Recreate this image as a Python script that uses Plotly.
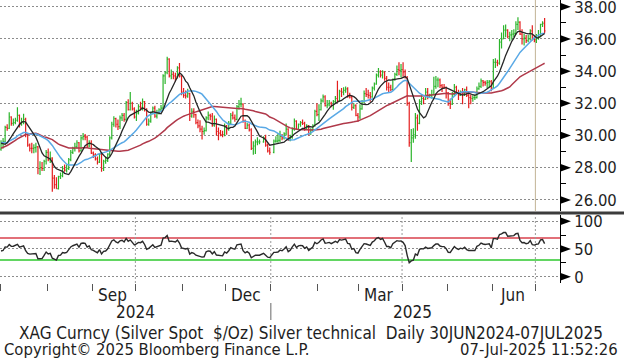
import pandas as pd
import plotly.graph_objects as go

# ---------------- data ----------------
# closes for the ~50 sessions before the window (used only for moving averages / RSI warm-up)
pre_close = [28.7, 27.3, 27.3, 27.3, 27.4, 27.3, 27.5, 26.6,
             26.6, 26.5, 26.6, 27.4, 27.4, 27.4, 28.2, 28.2, 28.2, 28.7, 29.6, 29.5, 31.4, 31.7,
             30.6, 30.2, 30.4, 30.4, 30.8, 32.0, 31.9, 31.2, 30.4,
             30.4, 29.6, 29.9, 31.3, 29.2, 29.6, 29.1, 29.7, 28.9, 29.5, 29.5, 29.4, 29.9, 30.8,
             29.6, 29.7, 28.9, 29.0, 29.2, 29.1]

open_ = [
    # Jul 2024
    29.15, 29.50, 29.60, 30.50, 30.45, 31.15, 30.75, 30.80, 30.95, 31.25, 30.75, 30.85, 31.00, 30.05, 29.40, 29.20, 29.20, 29.25, 29.30, 27.95, 28.00, 27.95, 28.40,
    # Aug
    28.95, 28.50, 28.60, 27.35, 26.95, 26.70, 27.45, 27.50, 27.95, 27.85, 27.95, 28.50, 28.95, 29.20, 29.30, 29.55, 29.05, 29.85, 29.95, 29.90, 29.35, 29.55,
    # Sep
    28.90, 28.80, 28.55, 28.35, 28.85, 27.95, 28.40, 28.45, 28.85, 29.85, 30.70, 31.05, 30.70, 30.55, 31.10, 31.25, 31.00, 32.05, 31.60, 32.00, 31.65,
    # Oct
    31.15, 31.40, 31.80, 31.75, 32.10, 31.60, 30.70, 30.90, 31.40, 31.70, 31.20, 31.40, 31.60, 31.70, 33.70, 33.90, 34.75, 33.70, 33.80, 33.70, 33.65, 34.20, 33.70,
    # Nov
    32.70, 32.50, 32.45, 32.60, 31.20, 31.50, 31.30, 30.80, 30.60, 30.40, 30.25, 30.30, 31.10, 31.25, 31.20, 30.65, 31.00, 30.25, 30.15, 30.05, 30.05,
    # Dec
    30.60, 30.40, 30.75, 31.25, 31.10, 31.00, 31.80, 31.95, 31.95, 30.90, 30.45, 30.65, 30.35, 29.20, 29.35, 29.60, 29.60, 29.60, 29.85, 29.40, 29.05,
    # Jan 2025
    28.95, 29.65, 29.65, 29.70, 29.95, 29.85, 30.10, 30.40, 29.70, 29.90, 30.40, 30.90, 30.40, 30.70, 30.80, 30.75, 30.40, 30.60, 30.10, 30.35, 30.60, 31.50,
    # Feb
    31.30, 31.60, 32.15, 32.40, 31.85, 31.90, 32.00, 31.85, 32.10, 32.30, 32.15, 32.75, 32.70, 32.80, 32.90, 32.45, 32.40, 31.75, 31.85, 31.25,
    # Mar
    31.15, 31.65, 32.10, 32.60, 32.55, 32.50, 32.40, 32.95, 33.20, 33.75, 33.95, 33.75, 33.95, 33.55, 33.00, 33.00, 32.85, 33.50, 33.80, 34.10, 34.05,
    # Apr
    34.10, 33.95, 33.60, 32.00, 29.55, 29.85, 30.05, 31.10, 30.75, 32.10, 32.30, 32.25, 32.70, 32.40, 32.50, 32.55, 33.05, 33.45, 33.45, 33.10, 33.00, 33.00,
    # May
    32.65, 32.00, 31.95, 32.55, 33.00, 32.65, 32.50, 32.70, 32.60, 32.85, 32.50, 32.35, 32.30, 32.35, 32.35, 32.90, 33.05, 33.40, 33.30, 33.25, 33.30, 33.35,
    # Jun
    32.95, 34.55, 34.55, 34.50, 35.80, 36.00, 36.55, 36.55, 36.15, 36.25, 36.30, 36.35, 36.90, 37.05, 36.30, 36.00, 36.05, 35.90, 36.00, 36.50, 36.00,
    # Jul
    35.95, 36.10, 36.15, 36.90, 37.00,
]

high = [
    29.70, 29.85, 30.60, 30.70, 31.45, 31.20, 31.05, 31.10, 31.75, 31.30, 31.10, 31.35, 31.10, 30.10, 29.50, 29.55, 29.45, 29.55, 29.35, 28.40, 28.35, 28.50, 29.10,
    29.20, 29.00, 28.65, 27.55, 27.40, 27.50, 27.70, 28.10, 28.20, 28.20, 28.60, 29.10, 29.30, 29.55, 29.70, 29.60, 29.95, 30.15, 30.10, 30.00, 29.70, 29.70,
    29.00, 28.90, 28.70, 28.90, 28.95, 28.50, 28.70, 28.90, 29.95, 30.85, 31.20, 31.10, 31.00, 31.25, 31.40, 31.40, 32.15, 32.25, 32.70, 32.10, 31.75,
    31.60, 31.95, 32.10, 32.30, 32.15, 31.70, 31.05, 31.50, 31.80, 31.85, 31.60, 31.70, 31.90, 33.80, 34.00, 34.90, 34.80, 34.10, 33.95, 33.90, 34.30, 34.50, 33.75,
    32.95, 32.80, 32.90, 32.65, 31.70, 31.70, 31.35, 31.00, 30.95, 30.60, 30.50, 31.20, 31.50, 31.35, 31.40, 31.25, 31.05, 30.50, 30.35, 30.30, 30.75,
    30.65, 30.90, 31.40, 31.50, 31.30, 31.90, 32.20, 32.35, 32.00, 31.00, 30.80, 30.75, 30.45, 29.65, 29.75, 29.90, 29.75, 29.95, 30.05, 29.50, 29.25,
    29.75, 29.95, 30.15, 30.30, 30.10, 30.20, 30.75, 30.45, 30.05, 30.50, 31.05, 30.95, 30.75, 30.90, 31.00, 30.85, 30.70, 30.65, 30.45, 30.70, 31.60, 32.00,
    31.95, 32.30, 32.55, 32.50, 32.20, 32.20, 32.10, 32.20, 32.45, 33.40, 32.85, 32.95, 33.00, 33.05, 33.00, 32.65, 32.50, 32.00, 31.95, 31.40,
    31.95, 32.20, 32.80, 32.95, 32.85, 32.70, 33.05, 33.30, 33.85, 34.20, 34.05, 34.05, 34.00, 33.70, 33.30, 33.15, 33.55, 33.90, 34.35, 34.55, 34.45,
    34.55, 34.10, 33.70, 32.10, 30.40, 30.45, 31.40, 31.30, 32.25, 32.50, 32.40, 32.95, 32.95, 32.60, 32.85, 33.65, 33.70, 33.60, 33.55, 33.20, 33.20, 33.05,
    32.70, 32.30, 32.70, 33.20, 33.10, 32.85, 32.80, 32.95, 32.90, 33.05, 32.60, 32.55, 32.50, 32.55, 33.05, 33.30, 33.55, 33.45, 33.40, 33.45, 33.45, 33.45,
    34.75, 34.80, 34.70, 36.00, 36.40, 36.85, 36.90, 36.60, 36.45, 36.55, 36.60, 37.10, 37.35, 37.10, 36.60, 36.30, 36.25, 36.25, 36.60, 36.85, 36.20,
    36.30, 36.55, 36.95, 37.10, 37.30,
]

low = [
    29.05, 29.20, 29.45, 30.30, 30.40, 30.60, 30.60, 30.70, 30.85, 30.50, 30.60, 30.70, 29.90, 29.30, 29.00, 28.90, 28.90, 28.95, 27.60, 27.55, 27.80, 27.80, 28.20,
    28.40, 28.30, 26.50, 26.70, 26.70, 26.65, 27.30, 27.40, 27.75, 27.70, 27.85, 28.40, 28.85, 29.00, 29.20, 28.95, 29.00, 29.70, 29.70, 29.25, 29.25, 28.85,
    28.60, 28.45, 28.20, 28.30, 27.75, 27.80, 28.25, 28.35, 28.70, 29.75, 30.55, 30.50, 30.35, 30.40, 30.90, 30.85, 30.90, 31.55, 31.55, 31.55, 31.05,
    30.90, 31.30, 31.55, 31.55, 31.50, 30.60, 30.60, 30.80, 31.30, 31.10, 31.05, 31.30, 31.50, 31.60, 33.20, 33.80, 33.60, 33.50, 33.50, 33.35, 33.55, 33.60, 32.50,
    32.35, 32.30, 32.35, 30.90, 31.10, 31.10, 30.70, 30.45, 30.20, 29.75, 30.05, 30.25, 30.95, 30.95, 30.55, 30.55, 30.00, 29.70, 29.95, 29.90, 29.95,
    30.05, 30.30, 30.65, 31.00, 30.85, 30.95, 31.60, 31.75, 30.80, 30.40, 30.40, 30.25, 29.10, 28.80, 28.85, 29.40, 29.45, 29.55, 29.30, 28.95, 28.80,
    28.90, 29.55, 29.55, 29.60, 29.70, 29.75, 30.00, 29.70, 29.65, 29.80, 30.30, 30.35, 30.35, 30.55, 30.65, 30.30, 30.35, 30.00, 30.05, 30.25, 30.55, 31.20,
    30.90, 31.55, 32.05, 31.80, 31.70, 31.80, 31.75, 31.60, 32.00, 32.05, 32.10, 32.40, 32.50, 32.65, 32.35, 32.30, 31.55, 31.65, 31.20, 30.85,
    31.00, 31.60, 32.00, 32.40, 32.30, 32.10, 32.35, 32.80, 33.15, 33.60, 33.60, 33.55, 33.40, 32.80, 32.70, 32.75, 32.80, 33.40, 33.70, 33.75, 33.60,
    33.65, 33.55, 31.85, 29.30, 28.35, 29.55, 29.80, 30.30, 30.70, 31.90, 31.95, 32.20, 32.25, 32.35, 32.30, 32.50, 32.90, 33.00, 32.95, 32.70, 32.90, 32.30,
    31.85, 31.65, 31.90, 32.45, 32.55, 32.20, 32.45, 31.95, 32.45, 32.40, 31.70, 31.95, 32.10, 32.20, 32.30, 32.85, 32.95, 33.05, 33.10, 32.95, 33.00, 32.75,
    32.95, 34.20, 34.30, 34.40, 35.40, 36.00, 36.10, 36.05, 35.85, 35.95, 36.10, 36.25, 36.55, 36.25, 35.65, 35.60, 35.75, 35.80, 35.90, 35.90, 35.80,
    35.75, 35.95, 36.10, 36.75, 36.35,
]

close = [
    29.50, 29.60, 30.50, 30.45, 31.15, 30.75, 30.80, 30.95, 31.25, 30.70, 30.85, 31.00, 30.05, 29.40, 29.20, 29.20, 29.25, 29.30, 27.95, 28.00, 27.95, 28.40, 28.95,
    28.50, 28.60, 27.35, 26.95, 26.70, 27.45, 27.50, 27.95, 27.85, 27.95, 28.50, 28.95, 29.20, 29.30, 29.55, 29.05, 29.85, 29.95, 29.90, 29.35, 29.55, 28.90,
    28.80, 28.55, 28.35, 28.85, 27.95, 28.40, 28.45, 28.85, 29.85, 30.70, 31.05, 30.70, 30.55, 31.10, 31.25, 31.00, 32.05, 31.60, 32.00, 31.65, 31.15,
    31.40, 31.80, 31.75, 32.10, 31.60, 30.70, 30.90, 31.40, 31.70, 31.20, 31.40, 31.60, 31.70, 33.70, 33.90, 34.75, 33.70, 33.80, 33.70, 33.65, 34.20, 33.70, 32.70,
    32.50, 32.45, 32.60, 31.20, 31.50, 31.30, 30.80, 30.60, 30.40, 30.25, 30.30, 31.10, 31.25, 31.20, 30.65, 31.00, 30.25, 30.15, 30.05, 30.05, 30.60,
    30.40, 30.75, 31.25, 31.10, 31.00, 31.80, 31.95, 31.95, 30.90, 30.45, 30.65, 30.35, 29.20, 29.35, 29.60, 29.60, 29.60, 29.85, 29.40, 29.05, 28.95,
    29.65, 29.65, 29.70, 29.95, 29.85, 30.10, 30.40, 29.70, 29.90, 30.40, 30.90, 30.40, 30.70, 30.80, 30.75, 30.40, 30.60, 30.10, 30.35, 30.60, 31.50, 31.30,
    31.60, 32.15, 32.40, 31.85, 31.90, 32.00, 31.85, 32.10, 32.30, 32.15, 32.75, 32.70, 32.80, 32.90, 32.45, 32.40, 31.75, 31.85, 31.25, 31.15,
    31.65, 32.10, 32.60, 32.55, 32.50, 32.40, 32.95, 33.20, 33.75, 33.95, 33.75, 33.95, 33.55, 33.00, 33.00, 32.85, 33.50, 33.80, 34.10, 34.05, 34.10,
    33.95, 33.60, 32.00, 29.55, 29.85, 29.95, 31.10, 30.75, 32.10, 32.30, 32.25, 32.70, 32.40, 32.50, 32.55, 33.05, 33.45, 33.45, 33.10, 33.00, 33.00, 32.65,
    32.00, 31.95, 32.55, 33.00, 32.65, 32.50, 32.70, 32.60, 32.85, 32.50, 32.35, 32.30, 32.35, 32.35, 32.90, 33.05, 33.40, 33.30, 33.25, 33.30, 33.35, 32.95,
    34.55, 34.55, 34.50, 35.80, 36.00, 36.55, 36.55, 36.15, 36.25, 36.30, 36.35, 36.90, 37.05, 36.30, 36.00, 36.05, 35.90, 36.00, 36.50, 36.00, 35.95,
    36.10, 36.15, 36.90, 36.95, 36.50,
]

price_ticks = [26, 28, 30, 32, 34, 36, 38]
rsi_ticks = [0, 50, 100]
month_labels = ["Sep", "Dec", "Mar", "Jun"]
month_label_dates = ["2024-09-16", "2024-12-16", "2025-03-17", "2025-06-16"]
year_labels = ["2024", "2025"]
year_label_dates = ["2024-10-01", "2025-04-08"]

# ---------------- derived ----------------
dates = pd.bdate_range("2024-07-01", "2025-07-07")
dates = dates[~dates.isin(pd.to_datetime(["2024-12-25", "2025-01-01"]))]
assert len(dates) == len(close) == len(open_) == len(high) == len(low)
xpos = dates + pd.Timedelta(hours=12)

full = pd.Series(pre_close + close, dtype=float)
n_pre = len(pre_close)
ma9 = full.rolling(9).mean().iloc[n_pre:].values
ma20 = full.rolling(20).mean().iloc[n_pre:].values
ma50 = full.rolling(50).mean().iloc[n_pre:].values
delta = full.diff()
gain = delta.clip(lower=0).ewm(alpha=1 / 14, adjust=False).mean()
loss = (-delta.clip(upper=0)).ewm(alpha=1 / 14, adjust=False).mean()
rsi = (100 - 100 / (1 + gain / loss)).iloc[n_pre:].values

month_ticks = [pd.offsets.BDay().rollforward(d) for d in pd.date_range("2024-07-01", "2025-07-01", freq="MS")]

FONT = "DejaVu Sans Condensed, DejaVu Sans, sans-serif"
TXT = "#1e1e1e"
GREEN = "#2cb52c"
RED = "#e41e1e"

fig = go.Figure()
fig.add_trace(go.Ohlc(x=xpos, open=open_, high=high, low=low, close=close,
                      increasing=dict(line=dict(color=GREEN, width=1.2)),
                      decreasing=dict(line=dict(color=RED, width=1.2)),
                      tickwidth=0.45, hoverinfo="skip", showlegend=False,
                      xaxis="x", yaxis="y"))
fig.add_trace(go.Scatter(x=xpos, y=ma50, mode="lines", line=dict(color="#b0394a", width=1.5),
                         hoverinfo="skip", showlegend=False, xaxis="x", yaxis="y"))
fig.add_trace(go.Scatter(x=xpos, y=ma20, mode="lines", line=dict(color="#5aa9e6", width=1.5),
                         hoverinfo="skip", showlegend=False, xaxis="x", yaxis="y"))
fig.add_trace(go.Scatter(x=xpos, y=ma9, mode="lines", line=dict(color="#262626", width=1.3),
                         hoverinfo="skip", showlegend=False, xaxis="x", yaxis="y"))
fig.add_trace(go.Scatter(x=xpos, y=rsi, mode="lines", line=dict(color="#2a2a2a", width=1.4),
                         hoverinfo="skip", showlegend=False, xaxis="x", yaxis="y2"))

shapes = []
# RSI overbought / oversold lines
shapes.append(dict(type="line", xref="paper", x0=0, x1=1, yref="y2", y0=70, y1=70,
                   line=dict(color="#d9404c", width=1.5), layer="below"))
shapes.append(dict(type="line", xref="paper", x0=0, x1=1, yref="y2", y0=30, y1=30,
                   line=dict(color="#62d662", width=2), layer="below"))
# quarter separators in RSI panel
for q in ["2024-10-01", "2025-01-01", "2025-04-01", "2025-07-01"]:
    shapes.append(dict(type="line", xref="x", x0=q, x1=q, yref="y2 domain", y0=0, y1=1,
                       line=dict(color="#9a9a9a", width=1, dash="2px,2px"), layer="below"))
# today marker in price panel
shapes.append(dict(type="line", xref="x", x0="2025-07-01", x1="2025-07-01", yref="y domain", y0=0, y1=1,
                   line=dict(color="#c2b396", width=1), layer="below"))
# thick panel separator
shapes.append(dict(type="line", xref="paper", x0=0, x1=624 / 560, yref="paper", y0=0.2473, y1=0.2473,
                   line=dict(color="#3c3c3c", width=3)))
# year separator below axis
shapes.append(dict(type="line", xref="x", x0="2025-01-01", x1="2025-01-01", yref="paper",
                   y0=-0.0707, y1=-0.131, line=dict(color="#9a9a9a", width=1.5)))
# axis flag markers
for v in price_ticks:
    shapes.append(dict(type="path", xref="paper", xsizemode="pixel", xanchor=1,
                       yref="y", ysizemode="pixel", yanchor=v,
                       path="M0,4 L11,0 L0,-4 Z", fillcolor="#000", line=dict(width=0)))
for v in rsi_ticks:
    shapes.append(dict(type="path", xref="paper", xsizemode="pixel", xanchor=1,
                       yref="y2", ysizemode="pixel", yanchor=v,
                       path="M0,4 L11,0 L0,-4 Z", fillcolor="#000", line=dict(width=0)))

annotations = []
for t, d in zip(month_labels, month_label_dates):
    annotations.append(dict(text=t, xref="x", x=d, yref="paper", y=-0.0424, showarrow=False,
                            xanchor="center", yanchor="middle", font=dict(size=17, color=TXT, family=FONT)))
for t, d in zip(year_labels, year_label_dates):
    annotations.append(dict(text=t, xref="x", x=d, yref="paper", y=-0.104, showarrow=False,
                            xanchor="center", yanchor="middle", font=dict(size=17, color=TXT, family=FONT)))
annotations.append(dict(text="XAG Curncy (Silver Spot \u00a0$/Oz) Silver technical \u00a0Daily 30JUN2024-07JUL2025",
                        xref="paper", x=311 / 560, yref="paper", y=-0.1767, showarrow=False,
                        xanchor="center", yanchor="middle", font=dict(size=17, color=TXT, family=FONT)))
annotations.append(dict(text="Copyright\u00a9 2025 Bloomberg Finance L.P.",
                        xref="paper", x=2 / 560, yref="paper", y=-0.2350, showarrow=False,
                        xanchor="left", yanchor="middle", font=dict(size=16.5, color=TXT, family=FONT)))
annotations.append(dict(text="07-Jul-2025 11:52:26",
                        xref="paper", x=620 / 560, yref="paper", y=-0.2350, showarrow=False,
                        xanchor="right", yanchor="middle", font=dict(size=16.5, color=TXT, family=FONT)))

fig.update_layout(
    width=624, height=360,
    margin=dict(l=0, r=64, t=0, b=77, autoexpand=False),
    paper_bgcolor="white", plot_bgcolor="white",
    showlegend=False,
    font=dict(family=FONT, size=16, color=TXT),
    xaxis=dict(domain=[0, 1], anchor="y2", type="date", automargin=False,
               range=["2024-07-01", "2025-07-17"],
               rangebreaks=[dict(bounds=["sat", "mon"])],
               tickmode="array", tickvals=month_ticks, ticks="outside", ticklen=7,
               tickcolor="#555", tickwidth=1, showticklabels=False,
               showgrid=False, showline=False, zeroline=False,
               rangeslider=dict(visible=False)),
    yaxis=dict(domain=[0.2544, 1], anchor="x", side="right", range=[25.31, 38.42], automargin=False,
               tickmode="linear", tick0=26, dtick=2, tickformat=".2f",
               ticks="outside", ticklen=5, tickcolor="#000", ticklabeloverflow="allow",
               showline=True, linecolor="#000", linewidth=1,
               showgrid=True, gridcolor="#8c8c8c", griddash="2px,2px", gridwidth=1,
               zeroline=False, ticklabelstandoff=5,
               minor=dict(dtick=1, ticks="outside", ticklen=5, tickcolor="#000", showgrid=False),
               tickfont=dict(size=16.5, color=TXT, family=FONT)),
    yaxis2=dict(domain=[0, 0.2403], anchor="x", side="right", range=[-11.3, 111.3], automargin=False,
                tickmode="linear", tick0=0, dtick=50,
                ticks="outside", ticklen=5, tickcolor="#000", ticklabeloverflow="allow",
                showline=True, linecolor="#000", linewidth=1,
                showgrid=True, gridcolor="#8c8c8c", griddash="2px,2px", gridwidth=1,
                zeroline=False, ticklabelstandoff=5,
                minor=dict(dtick=25, ticks="outside", ticklen=5, tickcolor="#000", showgrid=False),
                tickfont=dict(size=16.5, color=TXT, family=FONT)),
    shapes=shapes,
    annotations=annotations,
)

fig.write_html("out.html", config={"displayModeBar": False},
               post_script="document.body.style.margin='0px';")
